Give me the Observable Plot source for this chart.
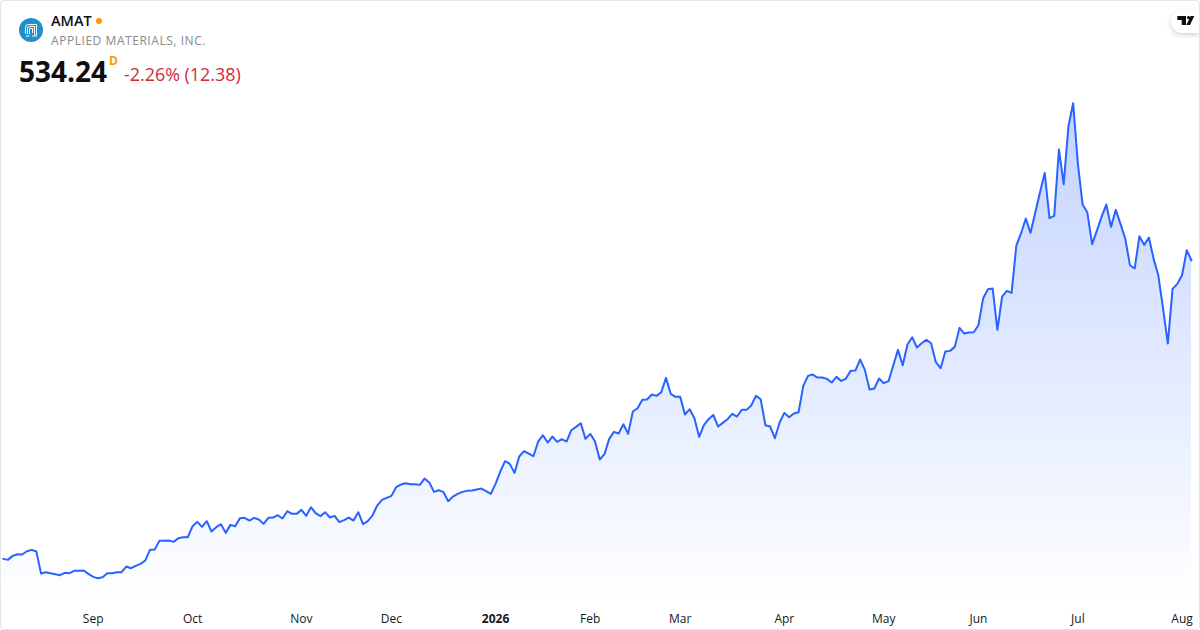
<!DOCTYPE html>
<html><head><meta charset="utf-8">
<script src="https://cdn.jsdelivr.net/npm/d3@7"></script>
<script src="https://cdn.jsdelivr.net/npm/@observablehq/plot@0.6"></script>
<style>
html,body{margin:0;padding:0;background:#fff;}
#wrap{position:relative;width:1200px;height:630px;overflow:hidden;font-family:"Open Sans",sans-serif;}
#frame{position:absolute;left:0;top:0;width:1198px;height:628px;border:1px solid #e6e6e6;border-radius:4px;pointer-events:none;}
#chart{position:absolute;left:0;top:0;}
#chart svg{display:block;}
.t{position:absolute;white-space:nowrap;}
#logo{position:absolute;left:19px;top:18px;}
#tv{position:absolute;left:1171px;top:10px;width:28px;height:23px;background:#fff;border-radius:12px 0 0 12px;box-shadow:0 2px 5px rgba(0,0,0,.18);}
</style></head><body>
<div id="wrap">
<div id="chart"></div>
<svg id="logo" width="24" height="24" viewBox="0 0 24 24"><circle cx="12" cy="12" r="12" fill="#1e90cc"/><g fill="none" stroke="#fff" stroke-width="1"><path d="M6.5 15.5V9.5Q6.5 6.5 9.5 6.5H17.5V18H13"/><path d="M8.5 16V10.5Q8.5 8.5 10.5 8.5H15.5V17"/><path d="M10.5 18H7M10.5 16V10.5H13.5V15"/></g></svg>
<div class="t" style="left:51px;top:12px;font-size:14.5px;font-weight:600;color:#0f0f0f;line-height:18px;">AMAT</div>
<div class="t" style="left:96px;top:18px;width:6px;height:6px;border-radius:50%;background:#ff9800;"></div>
<div class="t" style="left:51px;top:32px;font-size:12px;letter-spacing:.55px;color:#888888;line-height:18px;">APPLIED MATERIALS, INC.</div>
<div class="t" style="left:19px;top:52px;font-size:28px;font-weight:700;color:#0f0f0f;line-height:38px;">534.24</div>
<div class="t" style="left:109px;top:54px;font-size:12px;font-weight:700;color:#ff9800;line-height:14px;">D</div>
<div class="t" style="left:124px;top:61px;font-size:17.9px;color:#d1293d;line-height:26px;">-2.26% (12.38)</div>
<div id="tv"><svg width="28" height="23" viewBox="0 0 28 23" style="position:absolute;left:0;top:0"><path fill="#0f0f0f" d="M6.3 6h8.7v9h-4.3v-5H6.3zM23.3 6h-3.6l-4.4 9H19z"/><circle cx="17.6" cy="7.6" r="1.7" fill="#0f0f0f"/></svg></div>
<div id="frame"></div>
</div>
<script>
const prices = [
176.2,175.0,179.8,181.8,181.4,185.4,187.0,185.0,158.6,160.2,159.0,157.8,156.6,159.4,159.0,161.8,161.8,162.2,158.2,154.6,
153.0,154.2,159.0,159.0,160.2,160.2,167.0,165.0,167.8,170.2,174.2,187.0,187.4,197.8,197.8,198.2,196.6,201.0,202.2,202.2,
215.4,220.6,214.6,221.4,209.0,214.2,217.8,207.4,217.0,215.4,225.0,225.4,222.2,225.4,223.4,218.2,225.4,225.8,228.6,224.6,
233.4,230.2,230.2,235.0,227.8,238.2,231.0,227.4,232.2,225.8,227.8,220.2,222.6,225.8,222.2,232.2,217.8,221.4,228.2,240.2,
247.0,249.4,251.8,262.2,265.4,
267.0,265.8,265.8,265.0,272.6,267.8,256.6,258.6,256.2,245.4,251.0,254.2,256.6,257.8,258.2,259.4,260.6,257.4,254.2,266.2,
281.0,293.4,290.2,279.4,299.0,305.4,302.6,299.4,317.0,324.6,315.8,323.0,316.6,319.8,317.0,330.6,334.6,339.0,320.2,326.2,
317.4,295.4,301.8,320.2,328.6,326.6,337.8,326.2,353.0,357.0,367.0,367.4,373.4,371.8,376.2,393.4,374.2,370.6,370.6,349.4,
355.8,345.0,322.6,336.6,343.8,349.0,335.0,339.4,343.8,350.2,347.0,355.0,355.0,360.2,371.8,367.8,
336.6,335.0,321.0,339.8,351.4,346.2,350.6,352.2,383.8,395.8,397.4,393.8,393.8,392.2,387.8,394.6,389.8,392.6,401.8,402.2,
415.4,403.0,379.4,380.6,392.6,387.0,389.4,408.2,427.0,408.6,433.4,442.2,429.8,435.0,439.0,435.0,412.2,405.0,425.0,425.8,
430.6,453.4,446.6,447.8,448.2,456.6,489.0,499.8,500.6,451.0,491.0,497.8,495.4,
552.2,567.0,584.6,567.4,591.8,616.2,639.4,585.0,587.8,667.4,625.8,695.0,723.0,650.2,601.4,591.8,553.8,569.8,586.6,601.4,
574.6,595.0,578.2,560.6,528.6,524.6,563.4,553.0,561.8,536.2,516.2,476.2,434.6,500.2,506.2,516.6,546.62,534.24
];
const monthLabels = ["Sep","Oct","Nov","Dec","Feb","Mar","Apr","May","Jun","Jul","Aug"];
const monthIndex = [19,40,63,82,124,143,165,186,206,227,249];
const yearLabels = ["2026"];
const yearIndex = [104];
const baseline = 121;
const rows = prices.map((price, i) => ({i, price}));
const lineColor = "#2962ff";

const gradient = () => {
  const s = d3.create("svg:defs");
  const g = s.append("linearGradient").attr("id","areaFill").attr("x1",0).attr("x2",0).attr("y1",0).attr("y2",1);
  g.append("stop").attr("offset","0%").attr("stop-color",lineColor).attr("stop-opacity",0.28);
  g.append("stop").attr("offset","100%").attr("stop-color",lineColor).attr("stop-opacity",0);
  return s.node();
};

const fmt = (labels, idx) => v => labels[idx.indexOf(v)];
const chart = Plot.plot({
  width:1200, height:630, margin:0,
  style:{background:"transparent", fontFamily:'"Open Sans",sans-serif'},
  x:{type:"linear", axis:null, domain:[0,prices.length-1], range:[2.7,1191]},
  y:{type:"linear", axis:null, domain:[90.24,846.24], range:[630,0]},
  marks:[
    gradient,
    Plot.areaY(rows,{x:"i",y1:baseline,y2:"price",fill:"url(#areaFill)",curve:"linear"}),
    Plot.lineY(rows,{x:"i",y:"price",stroke:lineColor,strokeWidth:2,curve:"linear",strokeLinejoin:"round"}),
    Plot.axisX({ticks:monthIndex,tickFormat:fmt(monthLabels,monthIndex),tickSize:0,tickPadding:0,anchor:"bottom",fontSize:12,fill:"#131722",dy:-16,label:null}),
    Plot.axisX({ticks:yearIndex,tickFormat:fmt(yearLabels,yearIndex),tickSize:0,tickPadding:0,anchor:"bottom",fontSize:12,fontWeight:700,fill:"#131722",dy:-16,label:null})
  ]
});
document.getElementById("chart").appendChild(chart);
</script>
</body></html>
